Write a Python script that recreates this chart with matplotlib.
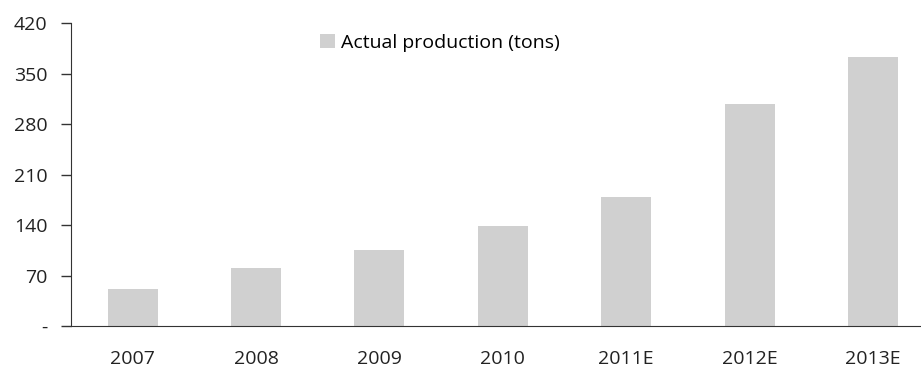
import matplotlib.pyplot as plt

# Data
years = ['2007', '2008', '2009', '2010', '2011E', '2012E', '2013E']
production = [51, 80, 105, 139, 179, 308, 373]
y_ticks = [0, 70, 140, 210, 280, 350, 420]
y_tick_labels = ['-', '70', '140', '210', '280', '350', '420']

plt.rcParams['font.family'] = ['Open Sans', 'DejaVu Sans']

fig = plt.figure(figsize=(9.21, 3.69), dpi=100)
ax = fig.add_axes([71 / 921, 0.1165, 850 / 921, 0.8203])

x = range(len(years))
ax.bar(x, production, width=0.405, color='#d0d0d0', label='Actual production (tons)')

ax.set_xlim(-0.5, 6.39)
ax.set_ylim(0, 420)
ax.set_xticks(list(x))
ax.set_xticklabels(years, fontsize=14, color='#222222')
ax.set_yticks(y_ticks)
ax.set_yticklabels(y_tick_labels, fontsize=14, color='#222222')

ax.spines['top'].set_visible(False)
ax.spines['right'].set_visible(False)
ax.spines['left'].set_color('#333333')
ax.spines['bottom'].set_color('#333333')
ax.tick_params(axis='y', length=7, width=1, color='#333333', pad=10)
ax.tick_params(axis='x', length=0, pad=17)

ax.legend(loc='center left', bbox_to_anchor=(320 / 921, 1 - 43 / 369),
          bbox_transform=fig.transFigure, frameon=False, fontsize=14,
          handlelength=0.75, handleheight=0.75, handletextpad=0.35,
          borderaxespad=0, borderpad=0)

fig.savefig('out.png', dpi=100)
